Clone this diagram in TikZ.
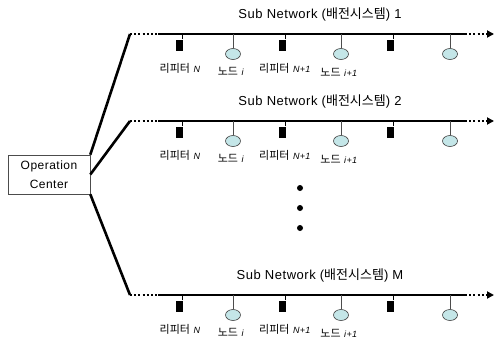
\documentclass[tikz,border=0pt]{standalone}
\usepackage{fontspec}
\setmainfont{Liberation Sans}[LetterSpace=4]
\newfontfamily\kr{Noto Sans CJK KR}
\usetikzlibrary{arrows.meta,shapes.geometric}
\definecolor{ndfill}{HTML}{C4E6E8}
\begin{document}
\begin{tikzpicture}[x=1pt,y=-1pt,
  bus/.style={line width=2.6pt},
  dotbus/.style={line width=2.6pt, dash pattern=on 2pt off 2.2pt},
  stem/.style={line width=0.7pt, draw=black!70},
  rep/.style={fill=black, minimum width=7pt, minimum height=11pt, inner sep=0pt},
  nd/.style={ellipse, draw=black!75, line width=0.6pt, fill=ndfill, minimum width=15pt, minimum height=11pt, inner sep=0pt},
  lab/.style={inner sep=0pt, font=\fontsize{11}{12}\selectfont},
  ttl/.style={inner sep=0pt, font=\fontsize{13}{15}\selectfont},
  vdot/.style={circle, fill=black, inner sep=0pt, minimum size=6pt}]
\useasboundingbox (0,0) rectangle (494,340);
\node[draw=black!70, line width=0.6pt, minimum width=82pt, minimum height=39pt, align=center,
      font=\fontsize{12}{19}\selectfont, inner sep=0pt] (oc) at (49,174.5) {Operation\\Center};
\foreach \y/\k/\t in {34/a/1,121/b/2,295/c/M}{
  \coordinate (\k-s) at (130,\y);
  \coordinate (\k-d1) at (158,\y);
  \coordinate (\k-d2) at (465,\y);
  \coordinate (\k-e) at (494,\y);
  \draw[dotbus] (\k-s) -- (\k-d1);
  \draw[bus] (\k-d1) -- (\k-d2);
  \draw[dotbus,-{Triangle[length=7pt,width=7pt]}] (\k-d2) -- (\k-e);
  \node[ttl] (\k-t) at (320,\y-20) {Sub Network ({\kr 배전시스템}) \t};
  \node[rep] (\k-r1) at (179,\y+11) {};
  \node[rep] (\k-r2) at (282,\y+11) {};
  \node[rep] (\k-r3) at (390,\y+11) {};
  \node[nd] (\k-n1) at (233,\y+20) {};
  \node[nd] (\k-n2) at (341,\y+20) {};
  \node[nd] (\k-n3) at (450,\y+20) {};
  \foreach \r in {r1,r2,r3}{
    \draw[stem,draw=black] (\k-\r.north east) -- (\k-\r.north east |- \k-s);
  }
  \foreach \n in {n1,n2,n3}{
    \draw[stem] (\k-\n.north) -- (\k-\n.north |- \k-s);
  }
  \node[lab] (\k-lr1) at (180,\y+34) {{\kr 리피터} \textit{\fontsize{9}{10}\selectfont N}};
  \node[lab] (\k-ln1) at (231,\y+37) {{\kr 노드} \textit{\fontsize{9}{10}\selectfont i}};
  \node[lab] (\k-lr2) at (285,\y+34) {{\kr 리피터} \textit{\fontsize{9}{10}\selectfont N+1}};
  \node[lab] (\k-ln2) at (339,\y+38) {{\kr 노드} \textit{\fontsize{9}{10}\selectfont i+1}};
}
\draw[bus] (oc.north east) -- (a-s);
\draw[bus] (oc.east) -- (b-s);
\draw[bus] (oc.south east) -- (c-s);
\node[vdot] (v1) at (300,188) {};
\node[vdot] (v2) at (300,208) {};
\node[vdot] (v3) at (300,228) {};
\end{tikzpicture}
\end{document}
